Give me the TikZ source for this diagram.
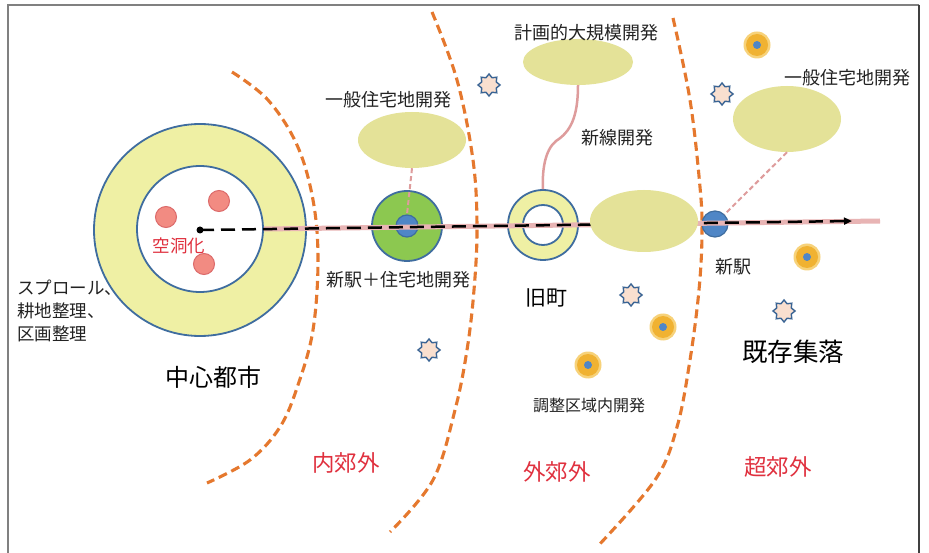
\documentclass[tikz,border=0pt]{standalone}
\usepackage{fontspec}
\setmainfont{Noto Sans CJK JP}
\usetikzlibrary{shapes.geometric,arrows.meta}
\definecolor{framegray}{HTML}{808080}
\definecolor{framedark}{HTML}{404040}
\definecolor{ringyellow}{HTML}{EFF0A4}
\definecolor{ellyellow}{HTML}{E4E298}
\definecolor{bordblue}{HTML}{3F6D9F}
\definecolor{dotblue}{HTML}{4F86C6}
\definecolor{salmon}{HTML}{F28B82}
\definecolor{salmonbd}{HTML}{DC6A6A}
\definecolor{stgreen}{HTML}{8CC850}
\definecolor{pinkline}{HTML}{E8B4B4}
\definecolor{pinkdash}{HTML}{DE9C9C}
\definecolor{arcorange}{HTML}{E5782E}
\definecolor{sunyellow}{HTML}{F0B232}
\definecolor{sunhalo}{HTML}{F7D27A}
\definecolor{starfill}{HTML}{F9DFCF}
\definecolor{starline}{HTML}{3A6494}
\definecolor{zonered}{HTML}{E0303E}
\definecolor{txtgray}{HTML}{222222}
\tikzset{
  lbl/.style={inner sep=0pt, text=txtgray, font=\fontsize{18}{21}\selectfont},
  lblsmall/.style={inner sep=0pt, text=txtgray, font=\fontsize{16}{19}\selectfont},
  lblbig/.style={inner sep=0pt, text=black, font=\fontsize{24}{28}\selectfont},
  zone/.style={inner sep=0pt, text=zonered, font=\fontsize{22.5}{26}\selectfont},
  ringcirc/.style={circle, draw=bordblue, line width=1.8pt, inner sep=0pt},
  devell/.style={ellipse, fill=ellyellow, inner sep=0pt},
  pinkdot/.style={circle, fill=salmon, draw=salmonbd, line width=1pt, inner sep=0pt, minimum size=21pt},
  sunhalo/.style={circle, fill=sunhalo, inner sep=0pt, minimum size=27pt},
  sunbody/.style={circle, fill=sunyellow, inner sep=0pt, minimum size=22pt},
  sundot/.style={circle, fill=dotblue, inner sep=0pt, minimum size=8pt},
  starico/.style={star, star points=8, star point ratio=1.4, draw=starline, fill=starfill, line width=1.4pt, inner sep=0pt, minimum size=22pt},
  arcline/.style={draw=arcorange, line width=3.1pt, dash pattern=on 9pt off 5pt},
  linkdash/.style={draw=pinkdash, line width=2pt, dash pattern=on 5pt off 3pt},
}
\begin{document}
\begin{tikzpicture}[x=1pt, y=-1pt]
\useasboundingbox (0,0) rectangle (929,553);
\fill[white] (0,0) rectangle (929,553);
% frame
\draw[framegray, line width=2pt] (8,553) -- (8,5) -- (919,5);
\draw[framedark, line width=2pt] (919,5) -- (919,553);

% zone boundary arcs
\draw[arcline] plot[smooth, tension=0.6] coordinates {(232,72) (268,100) (297,145) (313,200) (318,260) (313,330) (298,385) (280,427) (250,460) (207,483)};
\draw[arcline] plot[smooth, tension=0.6] coordinates {(432,12) (457,80) (473,160) (477,227) (474,290) (467,350) (455,410) (433,480) (390,532)};
\draw[arcline] plot[smooth, tension=0.6] coordinates {(673,18) (690,100) (700,187) (702,233) (699,290) (690,360) (677,427) (655,480) (597,547)};

% central city
\node[ringcirc, fill=ringyellow, minimum size=212pt] (cc) at (200,230) {};
\node[ringcirc, fill=white, minimum size=126pt] (ci) at (200,229) {};
\node[pinkdot] (p1) at (166,217) {};
\node[pinkdot] (p2) at (219,201) {};
\node[pinkdot] (p3) at (204,264) {};
\node[inner sep=0pt, text=zonered, font=\fontsize{17.5}{20}\selectfont] (kudo) at (179,246) {空洞化};

% stations
\node[ringcirc, fill=stgreen, minimum size=70pt] (gs) at (407,226) {};
\node[circle, fill=dotblue, draw=bordblue, line width=1.2pt, inner sep=0pt, minimum size=22pt] (gsi) at (407,226) {};
\node[ringcirc, fill=ringyellow, minimum size=70pt] (old) at (543,225) {};
\node[ringcirc, fill=white, minimum size=40pt] (oldi) at (543,225) {};
\node[circle, fill=dotblue, draw=bordblue, line width=1.2pt, inner sep=0pt, minimum size=26pt] (ns) at (715,224) {};

% railway line
\coordinate (lineEnd) at (852,221);
\coordinate (pinkEnd) at (880,221);
\draw[pinkline, line width=5pt] (ci.east) -- (pinkEnd);
\draw[black, line width=2.5pt, dash pattern=on 14pt off 7pt, -{Triangle[length=8pt,width=7pt]}] (cc.center) -- (lineEnd);
\fill[black] (cc.center) circle (3.5pt);

% development ellipses
\node[devell, minimum width=108pt, minimum height=56pt] (e1) at (412,140) {};
\node[devell, minimum width=110pt, minimum height=46pt] (e2) at (578,62) {};
\node[devell, minimum width=108pt, minimum height=62pt] (e3) at (644,221) {};
\node[devell, minimum width=108pt, minimum height=66pt] (e4) at (787,119) {};

% connectors
\draw[linkdash] (e1.south) -- (gsi.north);
\draw[linkdash] (e4.south) -- (ns.north east);
\coordinate (bend) at (556,141);
\draw[pinkdash, line width=2.5pt] (e2.south) .. controls (578,118) and (570,132) .. (bend) .. controls (545,150) and (542,170) .. (old.north);

% icons
\foreach \n/\p in {s1/{(489,85)}, s2/{(722,94)}, s3/{(631,295)}, s4/{(429,350)}, s5/{(784,311)}} {
  \node[starico] (\n) at \p {};
}
\foreach \n/\p in {u1/{(757,45)}, u2/{(807,257)}, u3/{(663,327)}, u4/{(588,365)}} {
  \node[sunhalo] (\n h) at \p {};
  \node[sunbody] (\n b) at \p {};
  \node[sundot] (\n d) at \p {};
}

% labels
\node[lbl] (t1) at (388,100) {一般住宅地開発};
\node[lbl] (t2) at (398,280) {新駅＋住宅地開発};
\node[lbl] (t3) at (586,33) {計画的大規模開発};
\node[lbl] (t4) at (617,138) {新線開発};
\node[lbl] (t5) at (847,78) {一般住宅地開発};
\node[lbl] (t6) at (733,267) {新駅};
\node[inner sep=0pt, text=black, font=\fontsize{21}{24}\selectfont] (t7) at (546,298) {旧町};
\node[lblsmall] (t8) at (589,405) {調整区域内開発};
\node[inner sep=0pt, text=black, font=\fontsize{25.5}{30}\selectfont] (t9) at (793,352) {既存集落};
\node[lblbig] (t10) at (213,377) {中心都市};
\node[inner sep=0pt, text=txtgray, font=\fontsize{17.5}{23}\selectfont, align=left, anchor=west] (t11) at (17,311) {スプロール、\\耕地整理、\\区画整理};
\node[zone] (z1) at (346,463) {内郊外};
\node[zone] (z2) at (557,472) {外郊外};
\node[zone] (z3) at (778,467) {超郊外};
\end{tikzpicture}
\end{document}
